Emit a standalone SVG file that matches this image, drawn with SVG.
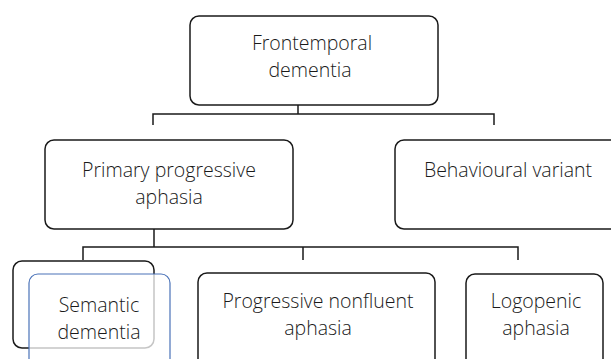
<svg xmlns="http://www.w3.org/2000/svg" width="611" height="359" viewBox="0 0 611 359">
<style>
.box{fill:none;stroke:#1a1a1a;stroke-width:1.5}
.ln{fill:none;stroke:#1a1a1a;stroke-width:1.5}
.t{font-family:"Open Sans","Liberation Sans",sans-serif;font-weight:300;font-size:19.5px;fill:#1a1a1a;text-anchor:middle}
</style>
<rect width="611" height="359" fill="#fff"/>
<g id="connectors">
<path class="ln" d="M298,105V114M153,125V114H494V125"/>
<path class="ln" d="M154,229V247M83,260V247H518V260M303,247V260"/>
</g>
<g id="frontemporal">
<rect class="box" x="190" y="16" width="248" height="89" rx="9"/>
<text class="t" x="312" y="50">Frontemporal</text>
<text class="t" x="310" y="77">dementia</text>
</g>
<g id="ppa">
<rect class="box" x="45" y="140" width="248" height="89" rx="9"/>
<text class="t" x="169" y="177">Primary progressive</text>
<text class="t" x="169" y="204">aphasia</text>
</g>
<g id="bv">
<rect class="box" x="395" y="140" width="230" height="89" rx="9"/>
<text class="t" x="508" y="177">Behavioural variant</text>
</g>
<g id="semantic">
<rect class="box" x="13" y="261" width="141" height="87" rx="9"/>
<rect x="29" y="274" width="141" height="100" rx="9" fill="#fff" fill-opacity="0.75" stroke="#4a72b8" stroke-width="1.2"/>
<text class="t" x="99" y="312">Semantic</text>
<text class="t" x="99" y="339">dementia</text>
</g>
<g id="pnfa">
<rect class="box" x="198" y="273" width="237" height="100" rx="9"/>
<text class="t" x="318" y="308">Progressive nonfluent</text>
<text class="t" x="318" y="335">aphasia</text>
</g>
<g id="logopenic">
<rect class="box" x="466" y="274" width="137" height="100" rx="9"/>
<text class="t" x="536" y="308">Logopenic</text>
<text class="t" x="536" y="335">aphasia</text>
</g>
</svg>
